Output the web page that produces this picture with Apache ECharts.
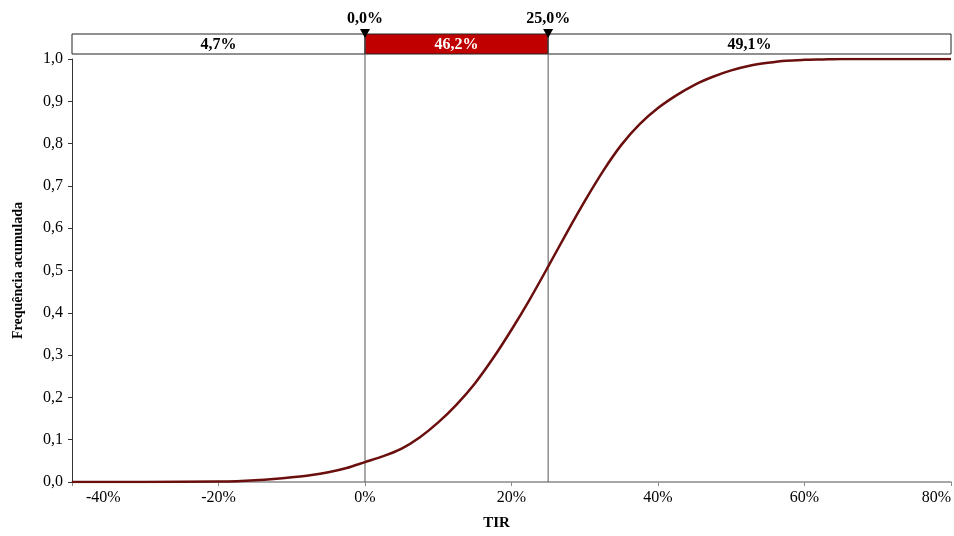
<!DOCTYPE html>
<html>
<head>
<meta charset="utf-8">
<script src="https://cdn.jsdelivr.net/npm/echarts@6/dist/echarts.min.js"></script>
<style>
  html, body { margin: 0; padding: 0; background: #fff; }
  #chart { width: 954px; height: 536px; }
</style>
</head>
<body>
<div id="chart"></div>
<script>
// TIR (%) e frequência acumulada
var tirPct = [-40, -30, -20, -17.5, -15, -12.5, -10, -7.5, -5, -2.5, 0, 2.5, 5, 7.5, 10, 12.5, 15, 17.5, 20, 22.5, 25, 27.5, 30, 32.5, 35, 37.5, 40, 42.5, 45, 47.5, 50, 52.5, 55, 57.5, 60, 62.5, 65, 70, 80]
var freqAcum = [0, 0, 0.001, 0.002, 0.004, 0.007, 0.011, 0.016, 0.023, 0.033, 0.047, 0.061, 0.079, 0.106, 0.141, 0.183, 0.233, 0.293, 0.36, 0.432, 0.509, 0.588, 0.664, 0.735, 0.797, 0.846, 0.884, 0.914, 0.939, 0.958, 0.973, 0.984, 0.991, 0.996, 0.998, 0.999, 1.0, 1.0, 1.0]

// limites das faixas e percentual de cada faixa
var limites = [-40, 0, 25, 80]
var faixas = [4.7, 46.2, 49.1]
var cortes = [0, 25]
var cortesLabel = ['0,0%', '25,0%']

var serif = '"Liberation Serif", "Times New Roman", serif'

var curva = tirPct.map(function (x, i) { return [x, freqAcum[i]] })
var dadosFaixas = faixas.map(function (p, i) { return [limites[i], limites[i + 1], p] })
var dadosCortes = cortes.map(function (c, i) { return [c, 1, cortesLabel[i]] })

var myChart = echarts.init(document.getElementById('chart'))

var option = {
    animation: false,
    backgroundColor: '#fff',
    grid: { left: 72, right: 3, top: 59, bottom: 48 },
    xAxis: {
        type: 'value',
        min: -40,
        max: 80,
        interval: 20,
        name: 'TIR',
        nameLocation: 'middle',
        nameGap: 34,
        nameTextStyle: { fontFamily: serif, fontWeight: 'bold', fontSize: 15, color: '#000', padding: [0, 30, 0, 0] },
        axisLine: { onZero: false, lineStyle: { color: '#8a8a8a', width: 1.5 } },
        axisTick: { show: true, length: 4, lineStyle: { color: '#8a8a8a' } },
        splitLine: { show: false },
        axisLabel: {
            fontFamily: serif,
            fontSize: 16,
            color: '#000',
            margin: 8,
            alignMinLabel: 'left',
            alignMaxLabel: 'right',
            formatter: function (v) {
                if (v === -40) return '{first|' + v + '%}'
                return v + '%'
            },
            rich: {
                first: { fontFamily: serif, fontSize: 16, color: '#000', padding: [0, 0, 0, 14] }
            }
        }
    },
    yAxis: {
        type: 'value',
        min: 0,
        max: 1,
        interval: 0.1,
        name: 'Frequência acumulada',
        nameLocation: 'middle',
        nameGap: 47,
        nameTextStyle: { fontFamily: serif, fontWeight: 'bold', fontSize: 14, color: '#000' },
        axisLine: { show: true, onZero: false, lineStyle: { color: '#333', width: 1 } },
        axisTick: { show: true, length: 4, lineStyle: { color: '#333' } },
        splitLine: { show: false },
        axisLabel: {
            fontFamily: serif,
            fontSize: 16,
            color: '#000',
            margin: 9,
            formatter: function (v) { return v.toFixed(1).replace('.', ',') }
        }
    },
    series: [
        {
            name: 'Frequência acumulada',
            type: 'line',
            data: curva,
            smooth: 0.3,
            showSymbol: false,
            z: 5,
            lineStyle: { color: '#6a0e0e', width: 2.5 }
        },
        {
            // faixas acima do gráfico
            type: 'custom',
            clip: false,
            silent: true,
            z: 3,
            data: dadosFaixas,
            encode: { x: [0, 1] },
            renderItem: function (params, api) {
                var p0 = api.coord([api.value(0), 1])
                var p1 = api.coord([api.value(1), 1])
                var top = p0[1] - 25
                var bot = p0[1] - 5
                var red = params.dataIndex === 1
                var txt = api.value(2).toFixed(1).replace('.', ',') + '%'
                return {
                    type: 'group',
                    children: [
                        {
                            type: 'rect',
                            shape: { x: p0[0], y: top, width: p1[0] - p0[0], height: bot - top },
                            style: { fill: red ? '#c00000' : '#fff', stroke: '#222', lineWidth: 1 }
                        },
                        {
                            type: 'text',
                            style: {
                                text: txt,
                                x: (p0[0] + p1[0]) / 2,
                                y: (top + bot) / 2 + 1,
                                align: 'center', verticalAlign: 'middle',
                                textAlign: 'center', textVerticalAlign: 'middle',
                                fill: red ? '#fff' : '#000',
                                font: 'bold 16px ' + serif
                            }
                        }
                    ]
                }
            }
        },
        {
            // linhas de corte com marcador
            type: 'custom',
            clip: false,
            silent: true,
            z: 4,
            data: dadosCortes,
            encode: { x: 0, y: 1 },
            renderItem: function (params, api) {
                var x = api.value(0)
                var pTop = api.coord([x, 1])
                var pBot = api.coord([x, 0])
                var yTop = pTop[1] - 25
                var px = pTop[0]
                var label = cortesLabel[params.dataIndex]
                return {
                    type: 'group',
                    children: [
                        {
                            type: 'line',
                            shape: { x1: px, y1: yTop, x2: px, y2: pBot[1] },
                            style: { stroke: '#555', lineWidth: 1 }
                        },
                        {
                            type: 'polygon',
                            shape: { points: [[px - 5, yTop - 5], [px + 5, yTop - 5], [px, yTop + 4]] },
                            style: { fill: '#000' }
                        },
                        {
                            type: 'text',
                            style: {
                                text: label,
                                x: px,
                                y: yTop - 15,
                                align: 'center', verticalAlign: 'middle',
                                textAlign: 'center', textVerticalAlign: 'middle',
                                fill: '#000',
                                font: 'bold 16px ' + serif
                            }
                        }
                    ]
                }
            }
        }
    ]
}

myChart.setOption(option)
</script>
</body>
</html>
